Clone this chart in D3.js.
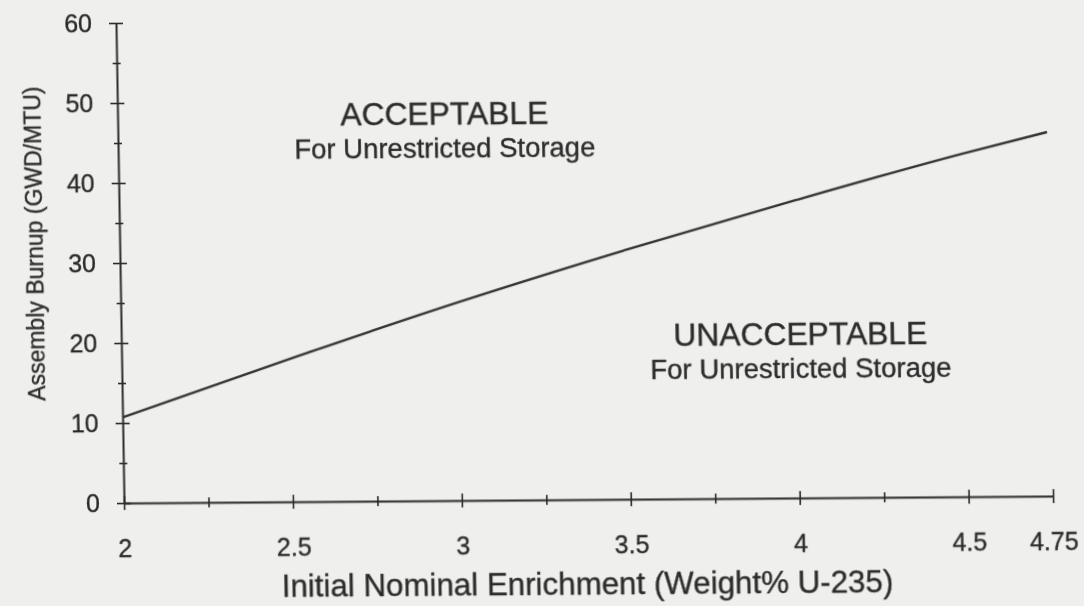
<!DOCTYPE html>
<html lang="en">

<head>
  <meta charset="UTF-8">
  <title>Assembly Burnup vs Enrichment</title>
  <style>
    body { margin: 0; background: #efefed; }
    svg { display: block; }
    text { stroke: #2b2b2b; stroke-width: 0.35px; }
  </style>
</head>

<body>
  <svg id="svg" width="1084" height="606"></svg>

  <script src="https://d3js.org/d3.v7.min.js"></script>
  <script>
    // data
    const enrichment = [2, 2.5, 3, 3.5, 4, 4.5, 4.75]
    const burnup = [10.7, 17.9, 24.8, 31.2, 37.2, 42.9, 45.5]

    const xTicks = [2, 2.25, 2.5, 2.75, 3, 3.25, 3.5, 3.75, 4, 4.25, 4.5, 4.75]
    const xLabels = [2, 2.5, 3, 3.5, 4, 4.5, 4.75]
    const yTicks = [0, 5, 10, 15, 20, 25, 30, 35, 40, 45, 50, 55, 60]
    const yLabels = [0, 10, 20, 30, 40, 50, 60]

    const xTitle = 'Initial Nominal Enrichment (Weight% U-235)'
    const yTitle = 'Assembly Burnup (GWD/MTU)'
    const regions = [
      { x: 2.967, y: 47.0, title: 'ACCEPTABLE', sub: 'For Unrestricted Storage' },
      { x: 4.01, y: 19.1, title: 'UNACCEPTABLE', sub: 'For Unrestricted Storage' }
    ]

    const ink = '#2b2b2b'
    const font = '"Liberation Sans", Arial, Helvetica, sans-serif'

    const xScale = d3.scaleLinear()
      .domain([2, 4.75])
      .range([124, 1053])

    const yScale = d3.scaleLinear()
      .domain([0, 60])
      .range([503, 23])

    const svg = d3.select('#svg')

    // soft edges like the scan
    svg.append('defs')
      .append('filter')
      .attr('id', 'soft')
      .append('feGaussianBlur')
      .attr('stdDeviation', 0.45)

    // the scan is a little skewed, keep that
    const ox = xScale(2), oy = yScale(0)
    const g = svg.append('g')
      .attr('filter', 'url(#soft)')
      .attr('transform', `translate(${ox},${oy}) matrix(1,-0.0075,0.0167,1,0,0) translate(${-ox},${-oy})`)

    // x axis
    const xAxis = g.append('g')
      .attr('transform', `translate(0,${oy})`)
      .call(d3.axisBottom(xScale)
        .tickValues(xTicks)
        .tickSize(0)
        .tickPadding(36)
        .tickFormat(d => xLabels.includes(d) ? d3.format('~g')(d) : ''))

    xAxis.select('.domain')
      .attr('stroke', ink)
      .attr('stroke-width', 2)

    xAxis.selectAll('.tick line')
      .attr('y1', d => xLabels.includes(d) ? -7 : -5)
      .attr('y2', d => xLabels.includes(d) ? 7 : 5)
      .attr('stroke', ink)
      .attr('stroke-width', 1.6)

    xAxis.selectAll('.tick text')
      .style('font-family', font)
      .style('font-size', '25px')
      .attr('fill', ink)

    // y axis
    const yAxis = g.append('g')
      .attr('transform', `translate(${ox},0)`)
      .call(d3.axisLeft(yScale)
        .tickValues(yTicks)
        .tickSize(0)
        .tickPadding(24)
        .tickFormat(d => yLabels.includes(d) ? d : ''))

    yAxis.select('.domain')
      .attr('stroke', ink)
      .attr('stroke-width', 2)

    yAxis.selectAll('.tick line')
      .attr('x1', d => yLabels.includes(d) ? -7 : -4)
      .attr('x2', d => yLabels.includes(d) ? 7 : 4)
      .attr('stroke', ink)
      .attr('stroke-width', 1.6)

    yAxis.selectAll('.tick text')
      .style('font-family', font)
      .style('font-size', '25px')
      .attr('fill', ink)

    // the limit curve
    const points = enrichment.map((e, i) => [e, burnup[i]])

    g.append('path')
      .datum(points)
      .attr('d', d3.line()
        .x(d => xScale(d[0]))
        .y(d => yScale(d[1]))
        .curve(d3.curveMonotoneX))
      .attr('fill', 'none')
      .attr('stroke', '#333333')
      .attr('stroke-width', 2.4)

    // region labels
    const labels = g.selectAll('.region')
      .data(regions)
      .enter()
      .append('g')
      .attr('class', 'region')

    labels.append('text')
      .text(d => d.title)
      .attr('x', d => xScale(d.x))
      .attr('y', d => yScale(d.y))
      .attr('text-anchor', 'middle')
      .style('font-family', font)
      .style('font-size', '31.8px')
      .attr('fill', ink)

    labels.append('text')
      .text(d => d.sub)
      .attr('x', d => xScale(d.x))
      .attr('y', d => yScale(d.y) + 33)
      .attr('text-anchor', 'middle')
      .style('font-family', font)
      .style('font-size', '27.5px')
      .attr('fill', ink)

    // axis titles
    g.append('text')
      .text(xTitle)
      .attr('x', 586)
      .attr('y', 598)
      .attr('text-anchor', 'middle')
      .style('font-family', font)
      .style('font-size', '31.3px')
      .attr('fill', ink)

    g.append('text')
      .text(yTitle)
      .attr('transform', `translate(47,${yScale(32.5)}) rotate(-90)`)
      .attr('text-anchor', 'middle')
      .style('font-family', font)
      .style('font-size', '23px')
      .attr('fill', ink)
  </script>

</body>

</html>
